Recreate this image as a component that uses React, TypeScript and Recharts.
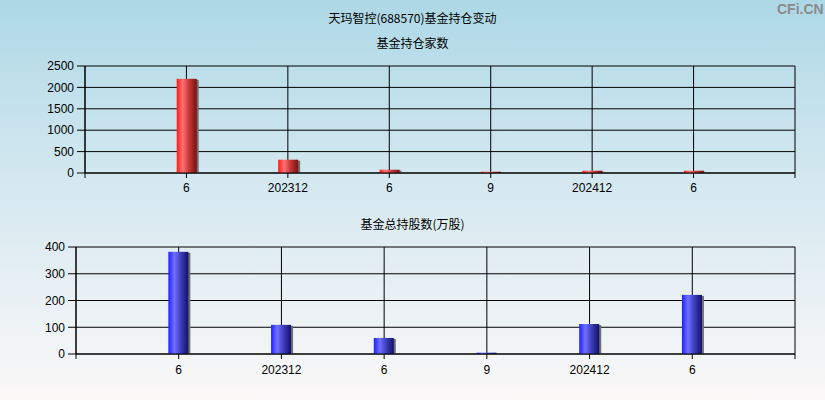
import React from 'react';
import { BarChart, Bar, XAxis, YAxis, CartesianGrid } from 'recharts';

const periods = ['6', '202312', '6', '9', '202412', '6'];
const fundCounts = [2200, 311, 77, 30, 54, 54];
const fundShares = [382, 109, 60, 5, 112, 221];
const countTicks = [0, 500, 1000, 1500, 2000, 2500];
const shareTicks = [0, 100, 200, 300, 400];
const slotTicks = [0, 1, 2, 3, 4, 5, 6, 7];

const topData = periods.map((p, i) => ({ pos: i + 1, label: p, value: fundCounts[i] }));
const bottomData = periods.map((p, i) => ({ pos: i + 1, label: p, value: fundShares[i] }));

const fmtX = (v: number) => (v >= 1 && v <= 6 ? periods[v - 1] : '');

const makeShape = (gradId: string) => (props: any) => {
  const { x, y, width, height } = props;
  if (!height || height <= 0) return <g />;
  return (
    <g>
      <rect x={x + 2} y={y + 1} width={width} height={Math.max(height - 1, 0)} fill="#6f6f6f" />
      <rect x={x} y={y} width={width} height={height} fill={`url(#${gradId})`} />
    </g>
  );
};

const tickStyle = { fontSize: 12, fill: '#000', fontFamily: 'Liberation Sans, Arial, sans-serif' };
const titleStyle: React.CSSProperties = {
  position: 'absolute',
  left: 0,
  width: 825,
  textAlign: 'center',
  fontSize: 12,
  fontFamily: '"Noto Sans CJK SC", sans-serif',
  color: '#000',
  lineHeight: '14px',
};

export default function App() {
  return (
    <div
      style={{
        position: 'absolute',
        left: 0,
        top: 0,
        width: 825,
        height: 400,
        overflow: 'hidden',
        background: 'linear-gradient(to bottom, #add8e6 0%, #d4e8f0 45%, #fbf8f8 100%)',
      }}
    >
      <svg width={0} height={0} style={{ position: 'absolute' }}>
        <defs>
          <linearGradient id="redGrad" x1="0" y1="0" x2="1" y2="0">
            <stop offset="0%" stopColor="#ff1a1a" />
            <stop offset="30%" stopColor="#ff7070" />
            <stop offset="60%" stopColor="#c83a3a" />
            <stop offset="100%" stopColor="#7a1010" />
          </linearGradient>
          <linearGradient id="blueGrad" x1="0" y1="0" x2="1" y2="0">
            <stop offset="0%" stopColor="#2020ff" />
            <stop offset="30%" stopColor="#7070ff" />
            <stop offset="60%" stopColor="#4040c0" />
            <stop offset="100%" stopColor="#10106a" />
          </linearGradient>
        </defs>
      </svg>
      <div style={{ ...titleStyle, top: 11 }}>天玛智控(688570)基金持仓变动</div>
      <div style={{ ...titleStyle, top: 36 }}>基金持仓家数</div>
      <div
        style={{
          position: 'absolute',
          left: 777,
          top: 1,
          fontSize: 14,
          fontWeight: 'bold',
          color: '#8a8a8a',
          fontFamily: 'Liberation Sans, Arial, sans-serif',
        }}
      >
        CFi.CN
      </div>
      <div style={{ position: 'absolute', left: 0, top: 0 }}>
        <BarChart width={825} height={200} data={topData} margin={{ top: 66, right: 30, bottom: 0, left: 0 }}>
          <CartesianGrid stroke="#000" strokeWidth={1} />
          <XAxis
            type="number"
            dataKey="pos"
            domain={[0, 7]}
            ticks={slotTicks}
            interval={0}
            tickFormatter={fmtX}
            height={27}
            tickSize={5}
            tickMargin={5}
            tick={tickStyle}
            axisLine={{ stroke: '#000' }}
            tickLine={{ stroke: '#000' }}
          />
          <YAxis
            domain={[0, 2500]}
            ticks={countTicks}
            interval={0}
            width={85}
            tickSize={8}
            tickMargin={3}
            tick={tickStyle}
            axisLine={{ stroke: '#000' }}
            tickLine={{ stroke: '#000' }}
          />
          <Bar dataKey="value" barSize={20} isAnimationActive={false} shape={makeShape('redGrad')} />
        </BarChart>
      </div>
      <div style={{ ...titleStyle, top: 217 }}>基金总持股数(万股)</div>
      <div style={{ position: 'absolute', left: 0, top: 200 }}>
        <BarChart width={825} height={200} data={bottomData} margin={{ top: 47, right: 30, bottom: 0, left: 0 }}>
          <CartesianGrid stroke="#000" strokeWidth={1} />
          <XAxis
            type="number"
            dataKey="pos"
            domain={[0, 7]}
            ticks={slotTicks}
            interval={0}
            tickFormatter={fmtX}
            height={46}
            tickSize={5}
            tickMargin={6}
            tick={tickStyle}
            axisLine={{ stroke: '#000' }}
            tickLine={{ stroke: '#000' }}
          />
          <YAxis
            domain={[0, 400]}
            ticks={shareTicks}
            interval={0}
            width={76}
            tickSize={8}
            tickMargin={3}
            tick={tickStyle}
            axisLine={{ stroke: '#000' }}
            tickLine={{ stroke: '#000' }}
          />
          <Bar dataKey="value" barSize={20} isAnimationActive={false} shape={makeShape('blueGrad')} />
        </BarChart>
      </div>
    </div>
  );
}
